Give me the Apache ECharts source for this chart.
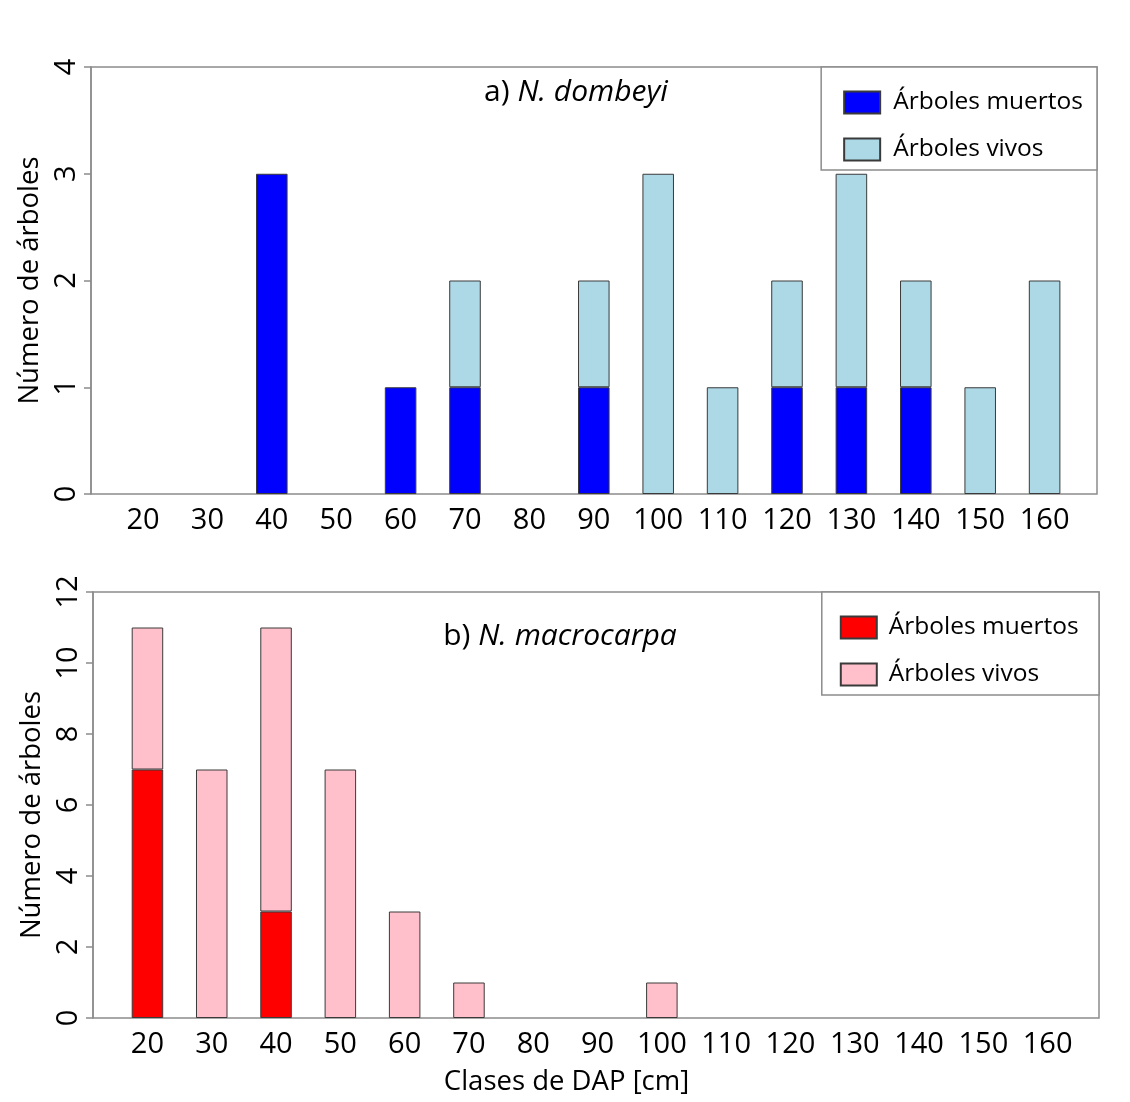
<!DOCTYPE html>
<html>
<head>
<meta charset="utf-8">
<script src="https://cdn.jsdelivr.net/npm/echarts@6/dist/echarts.min.js"></script>
<style>
html,body{margin:0;padding:0;background:#fff;}
#chart{width:1130px;height:1102px;}
</style>
</head>
<body>
<div id="chart"></div>
<script>
// DAP classes (cm)
const classes = ['20', '30', '40', '50', '60', '70', '80', '90', '100', '110', '120', '130', '140', '150', '160'];
// a) N. dombeyi
const dombeyiDead  = [0, 0, 3, 0, 1, 1, 0, 1, 0, 0, 1, 1, 1, 0, 0];
const dombeyiAlive = [0, 0, 0, 0, 0, 1, 0, 1, 3, 1, 1, 2, 1, 1, 2];
// b) N. macrocarpa
const macroDead  = [7, 0, 3, 0, 0, 0, 0, 0, 0, 0, 0, 0, 0, 0, 0];
const macroAlive = [4, 7, 8, 7, 3, 1, 0, 0, 1, 0, 0, 0, 0, 0, 0];
const yMaxTop = 4, yStepTop = 1;
const yMaxBottom = 12, yStepBottom = 2;
const labelDead = 'Árboles muertos';
const labelAlive = 'Árboles vivos';

const FONT = 'Open Sans';
const boxColor = '#8c8c8c';
const nz = (vals) => vals.map(v => v === 0 ? null : v);

// box grids (0,1) carry the visible y axes; bar grids (2,3) carry the category axes
function boxX(gridIndex) {
  return {type: 'value', gridIndex, min: 0, max: 1, show: false};
}
function boxY(gridIndex, max, interval, namePad) {
  return {
    type: 'value', gridIndex, min: 0, max, interval,
    axisLine: {show: true, lineStyle: {color: boxColor, width: 1.5}},
    axisTick: {show: true, length: 7, lineStyle: {color: boxColor, width: 1.5}},
    splitLine: {show: false},
    axisLabel: {rotate: 90, fontFamily: FONT, fontSize: 29, color: '#000', margin: 10},
    name: 'Número de árboles', nameLocation: 'middle', nameRotate: 90, nameGap: 44,
    nameTextStyle: {fontFamily: FONT, fontSize: 27.5, color: '#000', padding: namePad}
  };
}
function catX(gridIndex, name) {
  return {
    type: 'category', gridIndex, data: classes, boundaryGap: true,
    axisLine: {show: false}, axisTick: {show: false}, splitLine: {show: false},
    axisLabel: {fontFamily: FONT, fontSize: 29, color: '#000', margin: 12, interval: 0},
    name: name || '', nameLocation: 'middle', nameGap: 50,
    nameTextStyle: {fontFamily: FONT, fontSize: 27.5, color: '#000', padding: [0, 62, 0, 0]}
  };
}
function barY(gridIndex, max) {
  return {type: 'value', gridIndex, min: 0, max, show: false, splitLine: {show: false}};
}
function barSeries(name, vals, color, idx, stack) {
  return {
    type: 'bar', name, data: nz(vals), stack, xAxisIndex: idx, yAxisIndex: idx,
    barWidth: '49%', itemStyle: {color, borderColor: '#3a3a3a', borderWidth: 1},
    emphasis: {disabled: true}
  };
}
function legend(names, right, top, padLeft, textPad) {
  return {
    data: names, orient: 'vertical', right, top, itemWidth: 36, itemHeight: 22, itemGap: 22,
    icon: 'rect', selectedMode: false, backgroundColor: '#fff', borderColor: boxColor, borderWidth: 1.5,
    padding: [23, 14, 8, padLeft],
    textStyle: {fontFamily: FONT, fontSize: 24.5, color: '#000', padding: [0, 0, 0, textPad]}
  };
}
const rich = {
  n: {fontFamily: FONT, fontSize: 30, fontWeight: 'normal', color: '#000'},
  i: {fontFamily: FONT, fontSize: 30, fontWeight: 'normal', fontStyle: 'italic', color: '#000'}
};

const option = {
  animation: false,
  backgroundColor: '#fff',
  grid: [
    {left: 91, top: 67, width: 1006, height: 427, show: true, borderColor: boxColor, borderWidth: 1.5},
    {left: 93, top: 592, width: 1006, height: 426, show: true, borderColor: boxColor, borderWidth: 1.5},
    {left: 110.8, top: 67, width: 966, height: 427},
    {left: 115.3, top: 592, width: 964.5, height: 426}
  ],
  xAxis: [boxX(0), boxX(1), catX(2), catX(3, 'Clases de DAP [cm]')],
  yAxis: [boxY(0, yMaxTop, yStepTop, [0, 0, 0, 0]), boxY(1, yMaxBottom, yStepBottom, [0, 20, 0, 0]),
          barY(2, yMaxTop), barY(3, yMaxBottom)],
  title: [
    {text: '{n|a) }{i|N. dombeyi}', left: 571, top: 72, textAlign: 'center', textStyle: {rich}},
    {text: '{n|b) }{i|N. macrocarpa}', left: 555, top: 616, textAlign: 'center', textStyle: {rich}}
  ],
  legend: [
    legend([labelDead, labelAlive], 33, 67, 22, 8),
    legend([labelDead + ' ', labelAlive + ' '], 31, 592, 18, 7)
  ],
  series: [
    barSeries(labelDead, dombeyiDead, '#0000ff', 2, 'a'),
    barSeries(labelAlive, dombeyiAlive, '#add8e6', 2, 'a'),
    barSeries(labelDead + ' ', macroDead, '#ff0000', 3, 'b'),
    barSeries(labelAlive + ' ', macroAlive, '#ffc0cb', 3, 'b')
  ]
};
const chart = echarts.init(document.getElementById('chart'), null, {renderer: 'canvas'});
chart.setOption(option);
</script>
</body>
</html>
